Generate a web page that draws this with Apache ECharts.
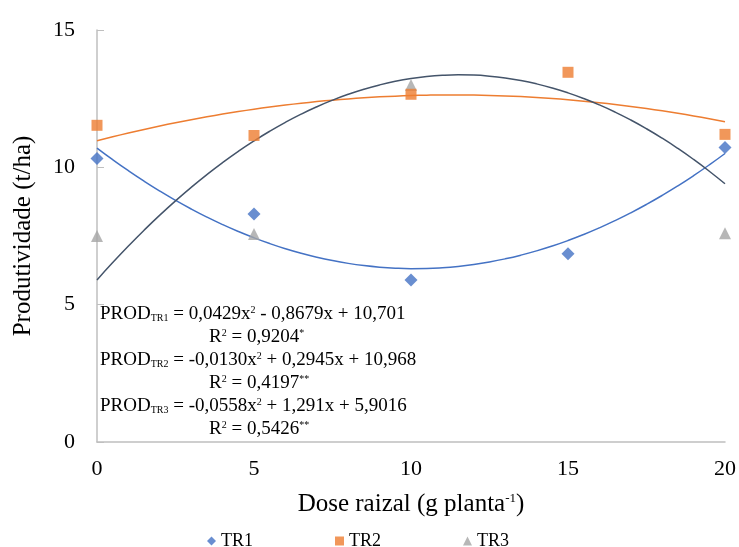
<!DOCTYPE html>
<html>
<head>
<meta charset="utf-8">
<script src="https://cdn.jsdelivr.net/npm/echarts@6/dist/echarts.min.js"></script>
<style>
  html, body { margin: 0; padding: 0; background: #fff; }
  #chart { width: 739px; height: 547px; }
</style>
</head>
<body>
<div id="chart"></div>
<script>
// doses (g planta-1)
const doses = [0, 5, 10, 15, 20];
// produtividade (t/ha)
const tr1 = [10.32, 8.3, 5.9, 6.85, 10.72];
const tr2 = [11.53, 11.16, 12.66, 13.46, 11.2];
const tr3 = [7.5, 7.57, 13.0, 16.5, 7.6]; // 15 g is above the axis max, not shown
// trend line coefficients [a, b, c] from the equations printed in the chart
const coefTR1 = [0.0429, -0.8679, 10.701];
const coefTR2 = [-0.0130, 0.2945, 10.968];
const coefTR3 = [-0.0558, 1.291, 5.9016];

const FONT = 'Liberation Serif';

function pts(ys) {
  return doses.map((d, i) => [d, ys[i]]);
}
function trend(c) {
  let out = [];
  for (let x = 0; x <= 20; x += 0.5) {
    out.push([x, c[0] * x * x + c[1] * x + c[2]]);
  }
  return out;
}

let chart = echarts.init(document.getElementById('chart'));

const rich = {
  t: {fontFamily: FONT, fontSize: 19, color: '#000'},
  s: {fontFamily: FONT, fontSize: 10, color: '#000', padding: [7, 0, 0, 0]},
  p: {fontFamily: FONT, fontSize: 10, color: '#000', padding: [0, 0, 8, 0]}
};
function eqText(x, y, str) {
  return {type: 'text', left: x, top: y, style: {text: str, rich: rich, fill: '#000'}};
}

let option = {
  animation: false,
  backgroundColor: '#fff',
  grid: {left: 97, right: 12, top: 30, bottom: 105},
  xAxis: {
    type: 'value', min: 0, max: 20, interval: 5,
    name: 'Dose raizal (g planta{p|-1})',
    nameLocation: 'middle', nameGap: 50,
    nameTextStyle: {fontFamily: FONT, fontSize: 25, color: '#000',
      rich: {p: {fontFamily: FONT, fontSize: 13, color: '#000', padding: [0, 0, 11, 0]}}},
    axisLine: {lineStyle: {color: '#BFBFBF', width: 1.5}},
    axisTick: {show: false},
    splitLine: {show: false},
    axisLabel: {fontFamily: FONT, fontSize: 22, color: '#000', margin: 16}
  },
  yAxis: {
    type: 'value', min: 0, max: 15, interval: 5,
    name: 'Produtividade (t/ha)',
    nameLocation: 'middle', nameGap: 61,
    nameTextStyle: {fontFamily: FONT, fontSize: 25, color: '#000'},
    axisLine: {show: true, lineStyle: {color: '#BFBFBF', width: 1.5}},
    axisTick: {show: true, inside: true, length: 7, lineStyle: {color: '#BFBFBF'}},
    splitLine: {show: false},
    axisLabel: {fontFamily: FONT, fontSize: 22, color: '#000', margin: 22}
  },
  legend: {
    data: ['TR1', 'TR2', 'TR3'],
    left: 202, top: 527,
    itemWidth: 9, itemHeight: 9, itemGap: 82,
    textStyle: {fontFamily: FONT, fontSize: 18, color: '#000'}
  },
  graphic: [
    eqText(100, 305, '{t|PROD}{s|TR1}{t| = 0,0429x}{p|2}{t| - 0,8679x + 10,701}'),
    eqText(209, 328, '{t|R}{p|2}{t| = 0,9204}{p|*}'),
    eqText(100, 351, '{t|PROD}{s|TR2}{t| = -0,0130x}{p|2}{t| + 0,2945x + 10,968}'),
    eqText(209, 374, '{t|R}{p|2}{t| = 0,4197}{p|**}'),
    eqText(100, 397, '{t|PROD}{s|TR3}{t| = -0,0558x}{p|2}{t| + 1,291x + 5,9016}'),
    eqText(209, 420, '{t|R}{p|2}{t| = 0,5426}{p|**}')
  ],
  series: [
    {name: 'TR1 trend', type: 'line', data: trend(coefTR1), smooth: true, showSymbol: false,
      lineStyle: {color: '#4472C4', width: 1.5}, z: 2},
    {name: 'TR2 trend', type: 'line', data: trend(coefTR2), smooth: true, showSymbol: false,
      lineStyle: {color: '#ED7D31', width: 1.5}, z: 2},
    {name: 'TR3 trend', type: 'line', data: trend(coefTR3), smooth: true, showSymbol: false,
      lineStyle: {color: '#44546A', width: 1.5}, z: 2},
    {name: 'TR1', type: 'scatter', data: pts(tr1), symbol: 'diamond', symbolSize: 13,
      itemStyle: {color: '#4472C4'}, z: 3},
    {name: 'TR3', type: 'scatter', data: pts(tr3), symbol: 'triangle', symbolSize: 12,
      itemStyle: {color: '#A5A5A5'}, z: 3, clip: true},
    {name: 'TR2', type: 'scatter', data: pts(tr2), symbol: 'rect', symbolSize: 11,
      itemStyle: {color: '#ED7D31'}, z: 4}
  ]
};

chart.setOption(option);
</script>
</body>
</html>
